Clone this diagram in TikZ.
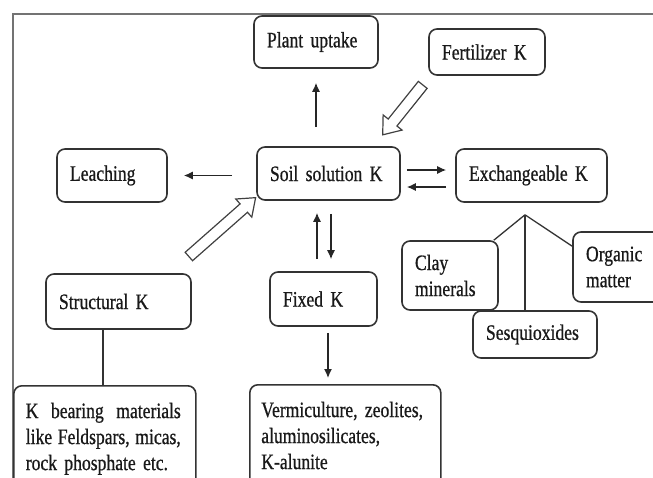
\documentclass[tikz,border=0pt]{standalone}
\usepackage{fontspec}
\setmainfont[FakeStretch=0.8, FakeBold=0.7, WordSpace=0.55]{Liberation Serif}
\usepackage{tikz}
\usetikzlibrary{arrows.meta,shapes.arrows}

\begin{document}
\begin{tikzpicture}[x=1pt, y=-1pt,
  box/.style={draw=black!80, line width=1.6pt, rounded corners=8pt, fill=white,
    inner xsep=13pt, inner ysep=0pt, align=left, text=black!90,
    font=\fontsize{22}{26}\selectfont},
  arr/.style={-{Latex[length=9pt,width=8pt]}, line width=1.3pt, black!85},
  hollow/.style={single arrow, draw=black!75, line width=1.2pt, inner sep=5pt,
    single arrow head extend=6.5pt, single arrow tip angle=75, minimum height=#1}]
\useasboundingbox (0,0) rectangle (653,477);
\clip (0,0) rectangle (653,477);
% ---- frame ----
\draw[black!55, line width=1.4pt] (13,14) rectangle (700,520);
% ---- top row ----
\node[box, text width=98pt, minimum height=52pt] (plant) at (316,42) {Plant uptake};
\node[box, text width=90pt, minimum height=46pt] (fert) at (487,52) {Fertilizer K};
% ---- middle row ----
\node[box, text width=84pt, minimum height=53pt] (leach) at (112,175.5) {Leaching};
\node[box, text width=117pt, minimum height=53pt] (soil) at (328.5,173.5) {Soil solution K};
\node[box, text width=125pt, minimum height=53pt] (exch) at (531.5,175.5) {Exchangeable K};
% ---- lower row ----
\node[box, text width=119pt, minimum height=55pt] (struct) at (118.5,301.5) {Structural K};
\node[box, text width=81pt, minimum height=54pt] (fixed) at (323.5,299) {Fixed K};
\node[box, text width=70pt, minimum height=69pt] (clay) at (450,275.5) {Clay\\minerals};
\node[box, text width=66pt, minimum height=70pt] (organic) at (619,267) {Organic\\matter};
\node[box, text width=98pt, minimum height=47pt] (sesq) at (535,334.5) {Sesquioxides};
% ---- bottom boxes (cut by the frame) ----
\node[box, anchor=north west, inner xsep=12pt, inner ysep=17pt, text width=158pt] (kbear) at (13,385)
  {\makebox[155pt][s]{K\hfill bearing\hfill materials}\\ \makebox[155pt][s]{like\hfill Feldspars,\hfill micas,}\\ rock phosphate etc.};
\node[box, anchor=north west, inner xsep=11.5pt, inner ysep=17pt, text width=168pt] (verm) at (249,384)
  {Vermiculture, zeolites,\\ aluminosilicates,\\ K-alunite};
% ---- flows out of soil solution ----
\draw[arr, shorten <=19pt, shorten >=14pt] (plant.south |- soil.north) -- (plant.south);
\draw[arr, shorten <=24pt, shorten >=16pt] (soil.west |- leach.east) -- (leach.east);
\draw[arr, shorten <=6pt, shorten >=9pt] ([yshift=3.5pt]soil.east) -- ([yshift=3.5pt]soil.east -| exch.west);
\draw[arr, shorten <=9pt, shorten >=6pt] ([yshift=-13.5pt]soil.east -| exch.west) -- ([yshift=-13.5pt]soil.east);
\draw[arr, shorten <=13pt, shorten >=12pt] ([xshift=7.5pt]fixed.north |- soil.south) -- ([xshift=7.5pt]fixed.north);
\draw[arr, shorten <=12pt, shorten >=12pt] ([xshift=-6.5pt]fixed.north) -- ([xshift=-6.5pt]fixed.north |- soil.south);
\draw[arr, shorten <=6pt, shorten >=6pt] ([xshift=4.5pt]fixed.south) -- ([xshift=4.5pt]fixed.south |- verm.north);
% ---- inputs (hollow arrows) ----
\node[hollow=64pt, rotate=231.3] (fertin) at (405,107) {};
\node[hollow=89pt, rotate=41.4] (structin) at (219.5,229.5) {};
% ---- plain links ----
\draw[black!80, line width=1.3pt] ([xshift=-15.5pt]struct.south) -- ([xshift=-15.5pt]struct.south |- kbear.north);
\coordinate (fork) at ([xshift=-6.5pt,yshift=-12pt]exch.south);
\draw[black!80, line width=1.3pt] (fork) -- ([xshift=-5pt]clay.north east);
\draw[black!80, line width=1.3pt] (fork) -- (fork |- sesq.north);
\draw[black!80, line width=1.3pt] (fork) -- ([yshift=-15pt]organic.north west);
\end{tikzpicture}
\end{document}
